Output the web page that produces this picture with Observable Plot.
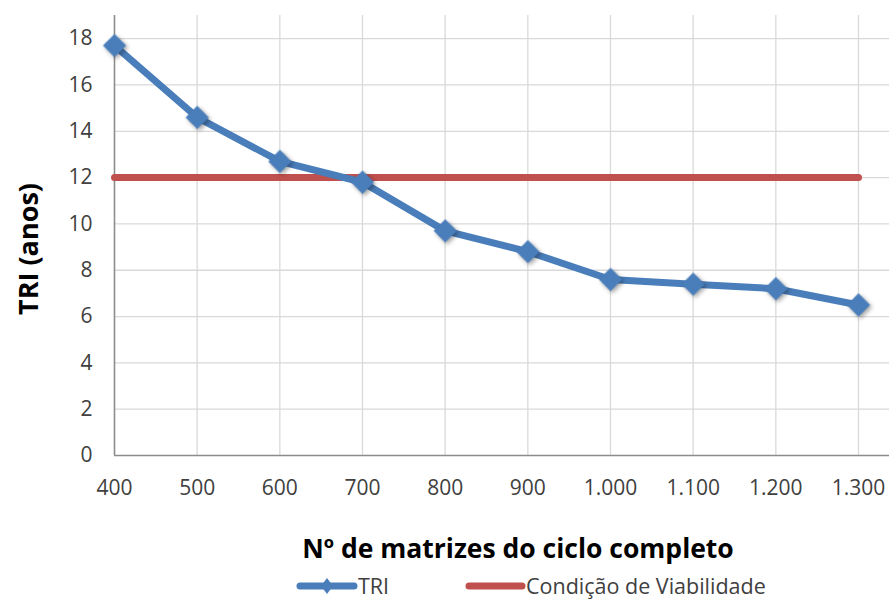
<!DOCTYPE html>
<html><head><meta charset="utf-8">
<script src="https://cdn.jsdelivr.net/npm/d3@7"></script>
<script src="https://cdn.jsdelivr.net/npm/@observablehq/plot@0.6"></script>
<style>
body{margin:0;background:#fff;font-family:"Open Sans",sans-serif;}
#wrap{position:relative;width:889px;height:601px;overflow:hidden;background:#fff;}
#chart{position:absolute;left:0;top:0;}
.ttl{position:absolute;font-weight:bold;color:#000;white-space:nowrap;line-height:1.2;}
#ytitle{left:28px;top:249px;font-size:27px;transform:translate(-50%,-50%) rotate(-90deg);}
#xtitle{left:518px;top:549px;font-size:26.5px;transform:translate(-50%,-50%);}
.leg{position:absolute;top:572px;height:28px;display:flex;align-items:center;font-size:21.5px;color:#404040;white-space:nowrap;line-height:1.2;}
</style></head><body>
<div id="wrap">
<div id="chart"></div>
<div id="ytitle" class="ttl">TRI (anos)</div>
<div id="xtitle" class="ttl">Nº de matrizes do ciclo completo</div>
<div class="leg" style="left:296px"><svg width="62" height="20"><line x1="4" y1="10" x2="58" y2="10" stroke="#4A7EBB" stroke-width="7" stroke-linecap="round"/><path d="M31,2 L37,10 L31,18 L25,10 Z" fill="#4A7EBB"/></svg><span>TRI</span></div>
<div class="leg" style="left:465px"><svg width="61" height="20"><line x1="4" y1="10" x2="57" y2="10" stroke="#C0504D" stroke-width="7" stroke-linecap="round"/></svg><span>Condição de Viabilidade</span></div>
</div>
<script>
const categories = ["400","500","600","700","800","900","1.000","1.100","1.200","1.300"];
const triValues = [17.7,14.6,12.7,11.8,9.7,8.8,7.6,7.4,7.2,6.5];
const viabilidadeValues = [12,12,12,12,12,12,12,12,12,12];
const yTicks = [0,2,4,6,8,10,12,14,16,18];

const tri = categories.map((c,i)=>({i, label:c, value:triValues[i]}));
const viab = categories.map((c,i)=>({i, label:c, value:viabilidadeValues[i]}));
const idx = categories.map((c,i)=>i);

const chart = Plot.plot({
  width:889, height:570,
  marginLeft:114, marginRight:0, marginTop:15, marginBottom:115,
  x:{type:"linear", domain:[0, 9.375]},
  y:{domain:[0,19]},
  style:{fontFamily:"Open Sans", fontSize:"21px", color:"#404040", background:"white"},
  marks:[
    Plot.gridX(idx, {stroke:"#d9d9d9", strokeOpacity:1, strokeWidth:1.3}),
    Plot.gridY(yTicks.filter(v=>v>0), {stroke:"#d9d9d9", strokeOpacity:1, strokeWidth:1.3}),
    Plot.axisX(idx, {tickFormat:i=>categories[i], tickSize:0, tickPadding:25, label:null, fontSize:21}),
    Plot.axisY(yTicks, {tickSize:0, tickPadding:22, label:null, fontSize:21}),
    Plot.ruleY([0], {stroke:"#8c8c8c", strokeWidth:1.5}),
    Plot.ruleX([0], {stroke:"#8c8c8c", strokeWidth:1.5}),
    Plot.line(viab, {x:"i", y:"value", stroke:"#C0504D", strokeWidth:7, strokeLinecap:"round"}),
    Plot.line(tri, {x:"i", y:"value", stroke:"#4A7EBB", strokeWidth:7, strokeLinejoin:"round"}),
    Plot.dot(tri, {x:"i", y:"value", symbol:"diamond2", r:10.5, fill:"#4A7EBB", stroke:"none"})
  ]
});
document.getElementById("chart").appendChild(chart);
d3.select(chart).selectAll("g[aria-label=dot]").style("filter","drop-shadow(2px 2px 2px rgba(0,0,0,0.35))");
</script>
</body></html>
